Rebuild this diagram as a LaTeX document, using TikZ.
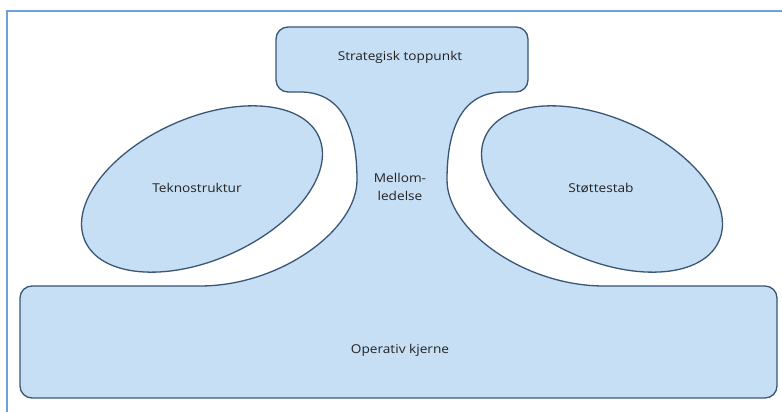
\documentclass[tikz,border=0pt]{standalone}
\usepackage{fontspec}
\setmainfont{Open Sans}[FakeStretch=1.12]
\definecolor{boxfill}{RGB}{198,223,244}
\definecolor{boxline}{RGB}{58,86,118}
\definecolor{framecol}{RGB}{112,160,218}
\definecolor{txt}{RGB}{35,35,35}
\begin{document}
\begin{tikzpicture}[x=1pt,y=1pt,
  shapeline/.style={draw=boxline,line width=1.3pt,fill=boxfill,line join=round},
  lbl/.style={font=\fontsize{12.2}{18}\selectfont,text=txt,align=center,inner sep=0pt}]
\useasboundingbox (0,0) rectangle (782,412);
\fill[white] (0,0) rectangle (782,412);
% frame
\draw[framecol,line width=2pt] (7,0) -- (7,400.5) -- (782,400.5);
% main shape: strategic apex + middle line + operating core
\draw[shapeline]
  (200,126) .. controls (280,126) and (357,182) .. (357,232)
  .. controls (357,287) and (340,320) .. (300,320)
  -- (288,320) arc[start angle=270,end angle=180,radius=12]
  -- (276,373) arc[start angle=180,end angle=90,radius=12]
  -- (516,385) arc[start angle=90,end angle=0,radius=12]
  -- (528,332) arc[start angle=0,end angle=-90,radius=12]
  -- (504,320) .. controls (464,320) and (447,287) .. (447,232)
  .. controls (447,182) and (524,126) .. (604,126)
  -- (765,126) arc[start angle=90,end angle=0,radius=12]
  -- (777,26) arc[start angle=0,end angle=-90,radius=12]
  -- (32,14) arc[start angle=270,end angle=180,radius=12]
  -- (20,114) arc[start angle=180,end angle=90,radius=12]
  -- cycle;
% ellipses
\draw[shapeline] (202,223) ellipse[x radius=128,y radius=71,rotate=24];
\draw[shapeline] (602,223) ellipse[x radius=128,y radius=71,rotate=-24];
% labels
\node[lbl] (apex) at (400,355) {Strategisk toppunkt};
\node[lbl] (mid) at (400,225) {Mellom-\\ledelse};
\node[lbl] (tech) at (197,224) {Teknostruktur};
\node[lbl] (supp) at (601,224) {Støttestab};
\node[lbl] (core) at (400,62) {Operativ kjerne};
\end{tikzpicture}
\end{document}
